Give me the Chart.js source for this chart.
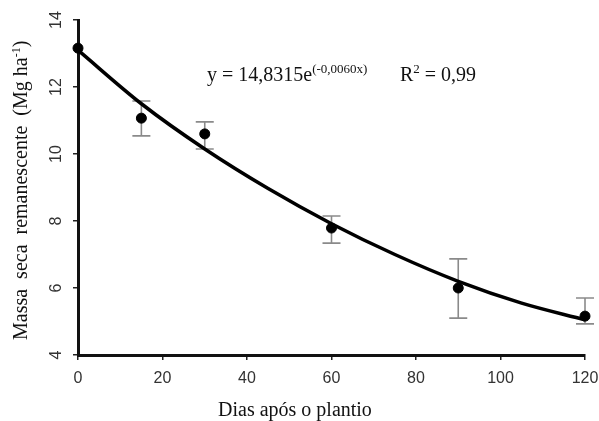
<!DOCTYPE html>
<html>
<head>
<meta charset="utf-8">
<script src="https://cdn.jsdelivr.net/npm/chart.js@4"></script>
<style>
  body { margin: 0; background: #fff; }
  canvas { display: block; }
</style>
</head>
<body>
<canvas id="chart" width="599" height="421"></canvas>
<script>
// observed points
const days = [0, 15, 30, 60, 90, 120];
const massa = [13.16, 11.07, 10.6, 7.79, 6.0, 5.16];
const errLow = [13.16, 10.54, 10.15, 7.34, 5.1, 4.93];
const errHigh = [13.16, 11.58, 10.96, 8.15, 6.87, 5.7];

// fitted curve
const curveDays = [0, 15, 30, 45, 60, 75, 90, 105, 120];
const curveMassa = [13.1, 11.5, 10.15, 8.97, 7.92, 7.0, 6.2, 5.55, 5.05];

const xTicks = [0, 20, 40, 60, 80, 100, 120];
const yTicks = [4, 6, 8, 10, 12, 14];

const serif = '"Liberation Serif", "Times New Roman", serif';
const sans = '"Liberation Sans", Arial, sans-serif';

// draws "base" then a raised smaller "sup", returns end x
function textWithSup(ctx, base, sup, x, y, size, supSize, rise) {
  ctx.font = size + 'px ' + serif;
  ctx.fillText(base, x, y);
  x += ctx.measureText(base).width;
  ctx.font = supSize + 'px ' + serif;
  ctx.fillText(sup, x, y - rise);
  return x + ctx.measureText(sup).width;
}

const extras = {
  id: 'extras',
  beforeDatasetsDraw(chart) {
    const { ctx, scales: { x, y } } = chart;
    ctx.save();
    ctx.strokeStyle = '#8a8a8a';
    ctx.lineWidth = 1.6;
    days.forEach((d, i) => {
      if (errHigh[i] === errLow[i]) return;
      const px = x.getPixelForValue(d);
      const top = y.getPixelForValue(errHigh[i]);
      const bot = y.getPixelForValue(errLow[i]);
      ctx.beginPath();
      ctx.moveTo(px, top); ctx.lineTo(px, bot);
      ctx.moveTo(px - 9, top); ctx.lineTo(px + 9, top);
      ctx.moveTo(px - 9, bot); ctx.lineTo(px + 9, bot);
      ctx.stroke();
    });
    ctx.restore();
  },
  afterDraw(chart) {
    const { ctx, scales: { y } } = chart;
    ctx.save();
    // y tick labels, rotated
    ctx.fillStyle = '#333';
    ctx.font = '16px ' + sans;
    ctx.textAlign = 'center';
    ctx.textBaseline = 'middle';
    yTicks.forEach(v => {
      ctx.save();
      ctx.translate(57, y.getPixelForValue(v));
      ctx.rotate(-Math.PI / 2);
      ctx.fillText(String(v), 0, 0);
      ctx.restore();
    });

    ctx.fillStyle = '#111';
    ctx.textAlign = 'left';
    ctx.textBaseline = 'alphabetic';

    // x title
    ctx.font = '20px ' + serif;
    ctx.fillText('Dias após o plantio', 218, 416);

    // y title
    ctx.save();
    ctx.translate(27, 340);
    ctx.rotate(-Math.PI / 2);
    const end = textWithSup(ctx, 'Massa  seca  remanescente  (Mg ha', '-1', 0, 0, 20, 12, 7);
    ctx.font = '20px ' + serif;
    ctx.fillText(')', end, 0);
    ctx.restore();

    // equation
    textWithSup(ctx, 'y = 14,8315e', '(-0,0060x)', 207, 81, 20, 13, 8);
    const rEnd = textWithSup(ctx, 'R', '2', 400, 81, 20, 13, 8);
    ctx.font = '20px ' + serif;
    ctx.fillText(' = 0,99', rEnd, 81);
    ctx.restore();
  }
};

new Chart(document.getElementById('chart'), {
  data: {
    datasets: [
      {
        type: 'line',
        data: curveDays.map((d, i) => ({ x: d, y: curveMassa[i] })),
        borderColor: '#000',
        borderWidth: 3.5,
        pointRadius: 0,
        cubicInterpolationMode: 'monotone',
        clip: false,
        order: 2
      },
      {
        type: 'scatter',
        data: days.map((d, i) => ({ x: d, y: massa[i] })),
        backgroundColor: '#000',
        borderColor: '#000',
        pointRadius: 5,
        clip: false,
        order: 1
      }
    ]
  },
  options: {
    responsive: false,
    animation: false,
    layout: { padding: { top: 20, right: 0, left: 0, bottom: 0 } },
    plugins: { legend: { display: false }, tooltip: { enabled: false } },
    scales: {
      x: {
        type: 'linear',
        min: 0,
        max: 120,
        afterFit: s => { s.height = 66; s.paddingRight = 14; s.paddingLeft = 0; },
        afterBuildTicks: s => { s.ticks = xTicks.map(v => ({ value: v })); },
        border: { color: '#111', width: 3 },
        grid: { drawOnChartArea: false, tickLength: 5, color: '#222', lineWidth: 1.5 },
        ticks: { color: '#333', font: { family: sans, size: 16 }, padding: 9, maxRotation: 0 }
      },
      y: {
        min: 4,
        max: 14,
        afterFit: s => { s.width = 78; },
        afterBuildTicks: s => { s.ticks = yTicks.map(v => ({ value: v })); },
        border: { color: '#111', width: 3 },
        grid: { drawOnChartArea: false, tickLength: 5, color: '#222', lineWidth: 1.5 },
        ticks: { display: false }
      }
    }
  },
  plugins: [extras]
});
</script>
</body>
</html>
